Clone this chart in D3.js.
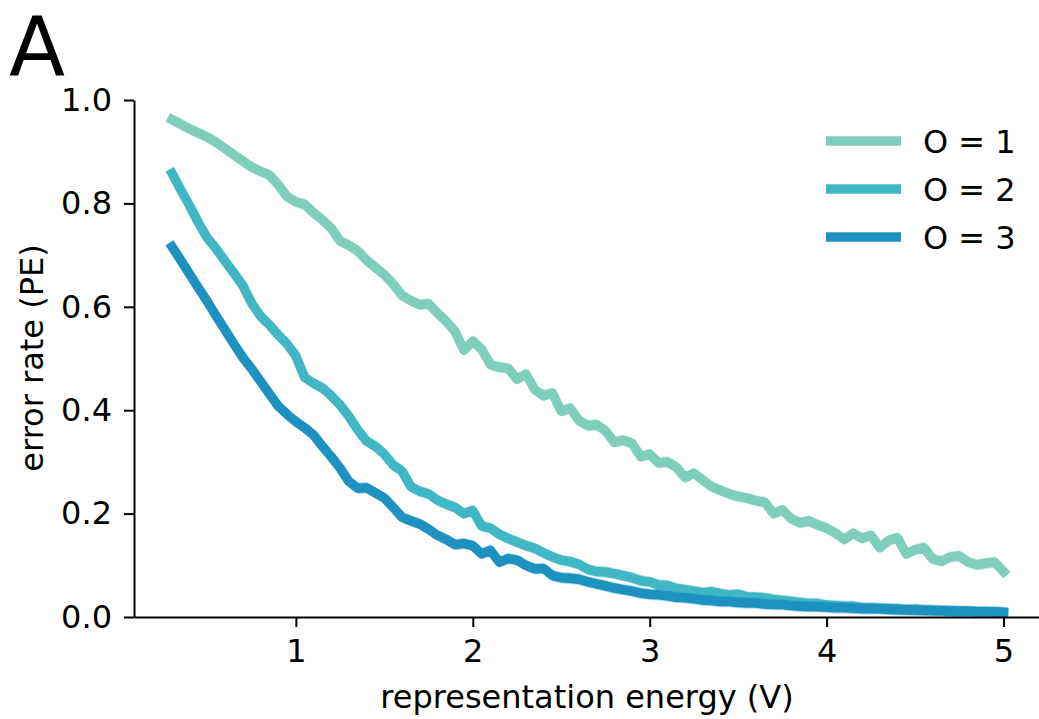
<!DOCTYPE html>
<html>
<head>
<meta charset="utf-8">
<script src="https://cdn.jsdelivr.net/npm/d3@7"></script>
<style>
  body { margin: 0; background: #fff; }
  svg { display: block; font-family: "DejaVu Sans", sans-serif; }
</style>
</head>
<body>
<svg id="chart" width="1039" height="719"></svg>
<script>
// representation energy V (x grid)
const energy = [
  0.30, 0.35, 0.40, 0.45, 0.50, 0.55, 0.60, 0.65, 0.70, 0.75,
  0.80, 0.85, 0.90, 0.95, 1.00, 1.05, 1.10, 1.15, 1.20, 1.25,
  1.30, 1.35, 1.40, 1.45, 1.50, 1.55, 1.60, 1.65, 1.70, 1.75,
  1.80, 1.85, 1.90, 1.95, 2.00, 2.05, 2.10, 2.15, 2.20, 2.25,
  2.30, 2.35, 2.40, 2.45, 2.50, 2.55, 2.60, 2.65, 2.70, 2.75,
  2.80, 2.85, 2.90, 2.95, 3.00, 3.05, 3.10, 3.15, 3.20, 3.25,
  3.30, 3.35, 3.40, 3.45, 3.50, 3.55, 3.60, 3.65, 3.70, 3.75,
  3.80, 3.85, 3.90, 3.95, 4.00, 4.05, 4.10, 4.15, 4.20, 4.25,
  4.30, 4.35, 4.40, 4.45, 4.50, 4.55, 4.60, 4.65, 4.70, 4.75,
  4.80, 4.85, 4.90, 4.95, 5.00
]

// error rate PE, O = 1
const pe1 = [
  0.962, 0.953, 0.944, 0.936, 0.928, 0.918, 0.906, 0.894, 0.882, 0.870,
  0.862, 0.855, 0.836, 0.813, 0.803, 0.798, 0.782, 0.768, 0.752, 0.727,
  0.719, 0.708, 0.690, 0.676, 0.662, 0.644, 0.622, 0.612, 0.604, 0.606,
  0.588, 0.572, 0.552, 0.516, 0.534, 0.518, 0.488, 0.483, 0.481, 0.460,
  0.470, 0.440, 0.428, 0.433, 0.398, 0.404, 0.380, 0.370, 0.372, 0.360,
  0.338, 0.342, 0.336, 0.310, 0.315, 0.298, 0.300, 0.290, 0.270, 0.278,
  0.265, 0.252, 0.245, 0.238, 0.233, 0.230, 0.225, 0.222, 0.200, 0.207,
  0.190, 0.182, 0.186, 0.178, 0.172, 0.162, 0.150, 0.162, 0.152, 0.158,
  0.134, 0.148, 0.153, 0.122, 0.130, 0.134, 0.112, 0.108, 0.116, 0.118,
  0.106, 0.101, 0.104, 0.106, 0.088
]

// error rate PE, O = 2
const pe2 = [
  0.858, 0.826, 0.795, 0.762, 0.733, 0.712, 0.688, 0.665, 0.641, 0.607,
  0.582, 0.565, 0.546, 0.528, 0.505, 0.463, 0.452, 0.443, 0.428, 0.410,
  0.388, 0.362, 0.340, 0.330, 0.315, 0.294, 0.282, 0.252, 0.243, 0.238,
  0.226, 0.218, 0.212, 0.200, 0.206, 0.176, 0.172, 0.160, 0.152, 0.145,
  0.138, 0.133, 0.124, 0.116, 0.110, 0.107, 0.102, 0.092, 0.088, 0.087,
  0.084, 0.080, 0.076, 0.070, 0.068, 0.062, 0.061, 0.055, 0.053, 0.050,
  0.047, 0.049, 0.045, 0.042, 0.044, 0.039, 0.038, 0.037, 0.034, 0.032,
  0.030, 0.028, 0.026, 0.026, 0.023, 0.022, 0.021, 0.021, 0.018, 0.018,
  0.017, 0.016, 0.016, 0.014, 0.015, 0.013, 0.013, 0.012, 0.012, 0.011,
  0.011, 0.010, 0.010, 0.010, 0.009
]

// error rate PE, O = 3
const pe3 = [
  0.716, 0.690, 0.663, 0.636, 0.610, 0.582, 0.555, 0.528, 0.502, 0.480,
  0.456, 0.432, 0.408, 0.392, 0.378, 0.366, 0.352, 0.330, 0.310, 0.288,
  0.262, 0.249, 0.250, 0.240, 0.230, 0.212, 0.193, 0.186, 0.180, 0.170,
  0.158, 0.150, 0.140, 0.142, 0.138, 0.122, 0.129, 0.106, 0.113, 0.110,
  0.100, 0.093, 0.094, 0.080, 0.076, 0.075, 0.073, 0.068, 0.064, 0.060,
  0.056, 0.053, 0.050, 0.046, 0.044, 0.043, 0.041, 0.038, 0.037, 0.035,
  0.033, 0.032, 0.030, 0.030, 0.028, 0.027, 0.027, 0.025, 0.024, 0.024,
  0.022, 0.021, 0.020, 0.020, 0.019, 0.018, 0.018, 0.017, 0.016, 0.016,
  0.016, 0.015, 0.014, 0.014, 0.013, 0.013, 0.012, 0.012, 0.011, 0.011,
  0.011, 0.010, 0.010, 0.009, 0.009
]

const seriesNames = ['O = 1', 'O = 2', 'O = 3']
const seriesColors = ['#7fcdbb', '#41b6c4', '#1d91c0']
const xTicks = [1, 2, 3, 4, 5]
const yTicks = [0, 0.2, 0.4, 0.6, 0.8, 1.0]

const svg = d3.select('#chart')
const fontSize = 32

const x = d3.scaleLinear().domain([0.085, 5.24]).range([134, 1046])
const y = d3.scaleLinear().domain([0, 1]).range([617, 100])

// panel letter
svg.append('text')
  .attr('x', 9)
  .attr('y', 75)
  .attr('font-size', 82)
  .text('A')

// series
const series = [pe1, pe2, pe3].map((vals, i) => ({
  name: seriesNames[i],
  color: seriesColors[i],
  points: energy.map((e, j) => [e, vals[j]])
}))

const band = d3.area()
  .x(d => x(d[0]))
  .y0(d => y(d[1] - 0.011))
  .y1(d => y(d[1] + 0.011))

const line = d3.line()
  .x(d => x(d[0]))
  .y(d => y(d[1]))

const plot = svg.append('g')
series.forEach(s => {
  plot.append('path')
    .attr('d', band(s.points))
    .attr('fill', s.color)
    .attr('opacity', 0.35)
  plot.append('path')
    .attr('d', line(s.points))
    .attr('fill', 'none')
    .attr('stroke', s.color)
    .attr('stroke-width', 9.5)
    .attr('stroke-linejoin', 'round')
    .attr('stroke-linecap', 'square')
})

// axes
const xAxis = svg.append('g')
  .attr('transform', 'translate(0,617)')
  .call(d3.axisBottom(x).tickValues(xTicks).tickFormat(d3.format('d'))
    .tickSize(10).tickSizeOuter(0).tickPadding(12))
const yAxis = svg.append('g')
  .attr('transform', 'translate(134,0)')
  .call(d3.axisLeft(y).tickValues(yTicks).tickFormat(d3.format('.1f'))
    .tickSize(10).tickSizeOuter(0).tickPadding(12))

for (const ax of [xAxis, yAxis]) {
  ax.select('.domain').attr('stroke', '#000').attr('stroke-width', 2)
  ax.selectAll('.tick line').attr('stroke', '#000').attr('stroke-width', 2)
  ax.selectAll('.tick text')
    .attr('font-family', '"DejaVu Sans", sans-serif')
    .attr('font-size', fontSize)
    .attr('fill', '#000')
}

svg.append('text')
  .attr('x', 587)
  .attr('y', 708)
  .attr('text-anchor', 'middle')
  .attr('font-size', fontSize)
  .text('representation energy (V)')

svg.append('text')
  .attr('transform', 'translate(43,358) rotate(-90)')
  .attr('text-anchor', 'middle')
  .attr('font-size', fontSize)
  .text('error rate (PE)')

// legend
const legend = svg.append('g')
series.forEach((s, i) => {
  const ly = 141 + i * 48
  legend.append('line')
    .attr('x1', 826).attr('x2', 901)
    .attr('y1', ly).attr('y2', ly)
    .attr('stroke', s.color)
    .attr('stroke-width', 9.5)
  legend.append('text')
    .attr('x', 923)
    .attr('y', ly)
    .attr('dy', '0.36em')
    .attr('font-size', fontSize)
    .text(s.name)
})
</script>
</body>
</html>
